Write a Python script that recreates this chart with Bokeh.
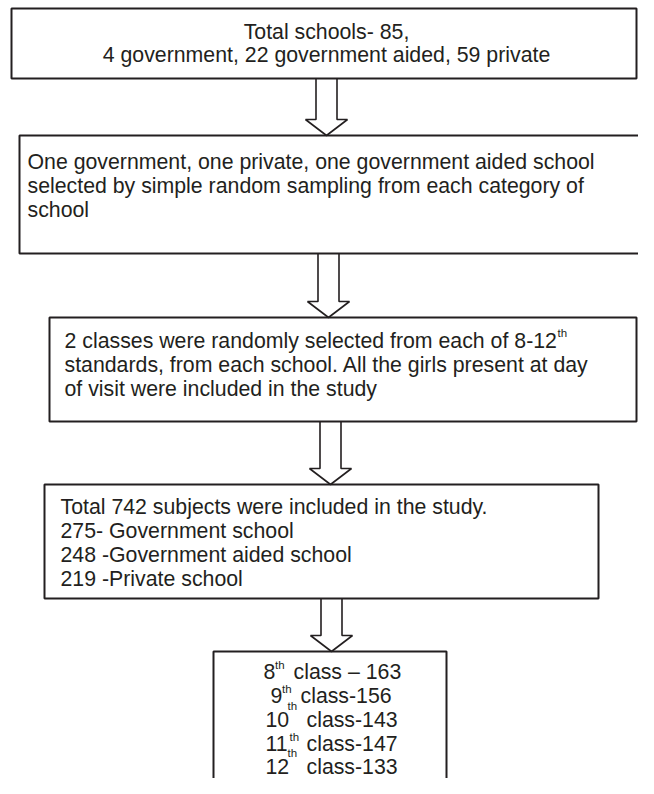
from bokeh.plotting import figure
from bokeh.models import Range1d, ColumnDataSource
from bokeh.embed import file_html
from bokeh.resources import INLINE
from bokeh.core.properties import value

# ---------------- data ----------------
total_schools = 85
school_types = ["government", "government aided", "private"]
school_counts = [4, 22, 59]
total_subjects = 742
subject_types = ["Government school", "Government aided school", "Private school"]
subject_counts = [275, 248, 219]
class_levels = ["8", "9", "10", "11", "12"]
class_counts = [163, 156, 143, 147, 133]

# ---------------- style / layout (pixel units) ----------------
W, H = 638, 778
FONT = "Liberation Sans"
FS = 21.3
SUP = 11.5
INK = "#231f20"

# Arial / Liberation Sans advance widths (per 1000 em)
AW = {" ": 278, ",": 278, "-": 333, ".": 278, "–": 556}
for ch in "0123456789":
    AW[ch] = 556
AW.update(dict(a=556, b=556, c=500, d=556, e=556, f=278, g=556, h=556, i=222, j=222,
               k=500, l=222, m=833, n=556, o=556, p=556, q=556, r=333, s=500, t=278,
               u=556, v=500, w=722, x=500, y=500, z=500))


def text_width(s, size):
    return sum(AW.get(c, 600) for c in s) * size / 1000.0


p = figure(width=W, height=H, x_range=Range1d(0, W), y_range=Range1d(H, 0),
           output_backend="svg", toolbar_location=None, min_border=0,
           x_axis_location=None, y_axis_location=None)
p.grid.visible = False
p.outline_line_color = None
p.background_fill_color = "white"

# boxes: left, right, top, bottom
boxes = [(11, 636, 8, 78), (19, 700, 135, 253), (49, 636, 317, 421),
         (44, 598, 484, 598), (213, 446, 651, 900)]
p.quad(left=[b[0] for b in boxes], right=[b[1] for b in boxes],
       top=[b[2] for b in boxes], bottom=[b[3] for b in boxes],
       fill_color="white", line_color=INK, line_width=2)

# block arrows: cx, shaft half width, head half width, head height
arrow_cx = [326, 328, 330, 331]
SH, HH, HL = 10.5, 21, 16
axs, ays = [], []
for i, cx in enumerate(arrow_cx):
    y0 = boxes[i][3]
    yt = boxes[i + 1][2]
    yb = yt - HL
    axs.append([cx - SH, cx - SH, cx - HH, cx, cx + HH, cx + SH, cx + SH])
    ays.append([y0, yb, yb, yt, yb, yb, y0])
p.multi_line(axs, ays, line_color=INK, line_width=1.6)


def add_text(xs, ys, texts, size=FS, align="left"):
    src = ColumnDataSource(dict(x=xs, y=ys, t=texts))
    p.text(x="x", y="y", text="t", source=src, text_font=value(FONT),
           text_font_size=f"{size}px", text_color=INK, text_align=align,
           text_baseline="middle")


# box 1
b1 = [f"Total schools- {total_schools},",
      f"{school_counts[0]} {school_types[0]}, {school_counts[1]} {school_types[1]}, "
      f"{school_counts[2]} {school_types[2]}"]
add_text([326, 326], [31, 54], b1, align="center")

# box 2
b2 = ["One government, one private, one government aided school",
      "selected by simple random sampling from each category of",
      "school"]
add_text([27] * 3, [161, 185, 209], b2)

# box 3
b3 = [f"2 classes were randomly selected from each of {class_levels[0]}-{class_levels[-1]}",
      "standards, from each school. All the girls present at day",
      "of visit were included in the study"]
add_text([64] * 3, [340, 364, 388], b3)
add_text([64 + text_width(b3[0], FS) + 0.5], [340 - 8], ["th"], size=SUP)

# box 4
b4 = [f"Total {total_subjects} subjects were included in the study.",
      f"{subject_counts[0]}- {subject_types[0]}",
      f"{subject_counts[1]} -{subject_types[1]}",
      f"{subject_counts[2]} -{subject_types[2]}"]
add_text([60] * 4, [506, 530, 554, 578], b4)

# box 5
num_x = [263, 270, 265, 265, 265]
rest_x = [293, 300, 306, 306, 306]
line_y = [671, 695, 719, 743, 766]
sup_x = [274.5, 281.5, 287, 289, 287]
sup_y = [664, 688, 705, 736, 752]
rest = [f"class – {class_counts[0]}"] + [f"class-{c}" for c in class_counts[1:]]
add_text(num_x, line_y, class_levels)
add_text(rest_x, line_y, rest)
add_text(sup_x, sup_y, ["th"] * 5, size=SUP)

open("out.html", "w").write(file_html(p, INLINE))
